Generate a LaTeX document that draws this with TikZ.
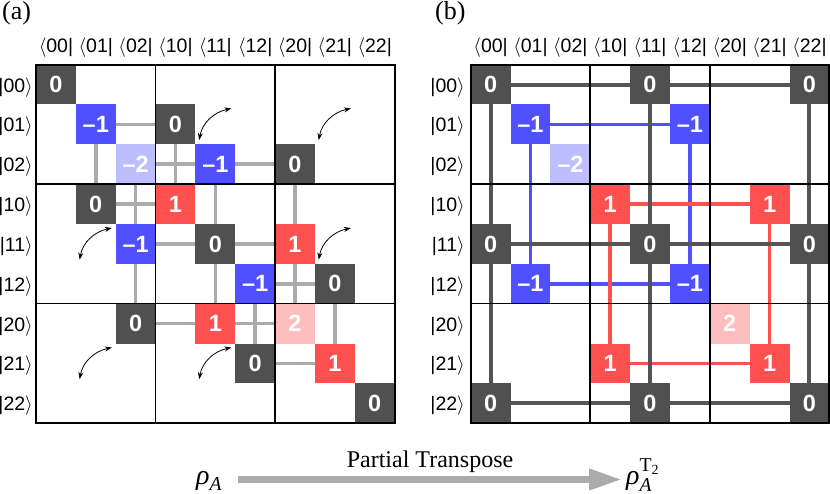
\documentclass[tikz,border=0pt]{standalone}
\usepackage{fix-cm}
\usepackage{amsmath}
\usepackage{fontspec}
\setmainfont{Liberation Serif}
\newfontfamily\arial{Liberation Sans}
\usetikzlibrary{arrows.meta}
\pgfdeclarelayer{bg}
\pgfsetlayers{bg,main}
\definecolor{dk}{HTML}{505050}
\definecolor{bl}{HTML}{5050FF}
\definecolor{lbl}{HTML}{BEBEFF}
\definecolor{rd}{HTML}{FF5050}
\definecolor{lrd}{HTML}{FFBEBE}
\definecolor{lg}{HTML}{ABABAB}
\definecolor{dl}{HTML}{555555}
\def\s{39.85}
\newcommand\acell[4]{\node[#3] (a-#1-#2) at ({36+(#2+0.5)*\s},{64.6+(#1+0.5)*\s}) {#4};}
\newcommand\bcell[4]{\node[#3] (b-#1-#2) at ({470.7+(#2+0.5)*\s},{64.6+(#1+0.5)*\s}) {#4};}
\begin{document}
\begin{tikzpicture}[x=1pt,y=-1pt,
  sq/.style={minimum size=39.85pt, inner sep=0pt, outer sep=0pt, text=white,
    font=\arial\bfseries\fontsize{23.5}{23.5}\selectfont},
  dkc/.style={sq, fill=dk}, blc/.style={sq, fill=bl}, lbc/.style={sq, fill=lbl},
  rdc/.style={sq, fill=rd}, lrc/.style={sq, fill=lrd},
  lab/.style={font=\arial\fontsize{19.5}{19.5}\selectfont, inner sep=0pt},
  gline/.style={draw=lg, line width=3.5pt},
  dline/.style={draw=dl, line width=4pt},
  bline/.style={draw=bl, line width=3.5pt},
  rline/.style={draw=rd, line width=3.5pt},
  outer/.style={line width=2pt},
  inner/.style={line width=1.6pt},
  swaparr/.style={line width=0.8pt, arrows={Stealth[length=7pt,width=5pt]-Stealth[length=7pt,width=5pt]}},
  bigarr/.style={draw=lg, line width=7pt, arrows={-Triangle[length=33pt,width=20pt]}}]
\useasboundingbox (0,0) rectangle (830,494);

% panel labels
\node[anchor=base west, inner sep=0pt, font=\fontsize{26}{26}\selectfont] (pa) at (2,20) {(a)};
\node[anchor=base west, inner sep=0pt, font=\fontsize{26}{26}\selectfont] (pb) at (435,20) {(b)};

% axis labels
\foreach \lbl [count=\i from 0] in {00,01,02,10,11,12,20,21,22} {
  \node[lab, anchor=base] (aca\i) at ({36+(\i+0.5)*\s},53) {$\langle$\lbl|};
  \node[lab, anchor=base] (bca\i) at ({470.7+(\i+0.5)*\s},53) {$\langle$\lbl|};
  \node[lab, anchor=base east] (ara\i) at (33,{64.6+(\i+0.5)*\s+7.5}) {|\lbl$\rangle$};
  \node[lab, anchor=base east] (bra\i) at (465,{64.6+(\i+0.5)*\s+7.5}) {|\lbl$\rangle$};
}

% panel (a) entries
\acell{0}{0}{dkc}{0}
\acell{1}{1}{blc}{–1}
\acell{1}{3}{dkc}{0}
\acell{2}{2}{lbc}{–2}
\acell{2}{4}{blc}{–1}
\acell{2}{6}{dkc}{0}
\acell{3}{1}{dkc}{0}
\acell{3}{3}{rdc}{1}
\acell{4}{2}{blc}{–1}
\acell{4}{4}{dkc}{0}
\acell{4}{6}{rdc}{1}
\acell{5}{5}{blc}{–1}
\acell{5}{7}{dkc}{0}
\acell{6}{2}{dkc}{0}
\acell{6}{4}{rdc}{1}
\acell{6}{6}{lrc}{2}
\acell{7}{5}{dkc}{0}
\acell{7}{7}{rdc}{1}
\acell{8}{8}{dkc}{0}

% panel (b) entries
\bcell{0}{0}{dkc}{0}
\bcell{0}{4}{dkc}{0}
\bcell{0}{8}{dkc}{0}
\bcell{1}{1}{blc}{–1}
\bcell{1}{5}{blc}{–1}
\bcell{2}{2}{lbc}{–2}
\bcell{3}{3}{rdc}{1}
\bcell{3}{7}{rdc}{1}
\bcell{4}{0}{dkc}{0}
\bcell{4}{4}{dkc}{0}
\bcell{4}{8}{dkc}{0}
\bcell{5}{1}{blc}{–1}
\bcell{5}{5}{blc}{–1}
\bcell{6}{6}{lrc}{2}
\bcell{7}{3}{rdc}{1}
\bcell{7}{7}{rdc}{1}
\bcell{8}{0}{dkc}{0}
\bcell{8}{4}{dkc}{0}
\bcell{8}{8}{dkc}{0}

\begin{pgfonlayer}{bg}
  % panel (a) connectors
  \draw[gline] (a-1-1) -- (a-1-3);
  \draw[gline] (a-1-1) -- (a-3-1);
  \draw[gline] (a-2-2) -- (a-2-4) -- (a-2-6);
  \draw[gline] (a-1-3) -- (a-3-3);
  \draw[gline] (a-2-2) -- (a-4-2) -- (a-6-2);
  \draw[gline] (a-3-1) -- (a-3-3);
  \draw[gline] (a-2-4) -- (a-4-4) -- (a-6-4);
  \draw[gline] (a-4-2) -- (a-4-4) -- (a-4-6);
  \draw[gline] (a-2-6) -- (a-4-6) -- (a-6-6);
  \draw[gline] (a-5-5) -- (a-5-7);
  \draw[gline] (a-5-5) -- (a-7-5);
  \draw[gline] (a-5-7) -- (a-7-7);
  \draw[gline] (a-6-2) -- (a-6-4) -- (a-6-6);
  \draw[gline] (a-7-5) -- (a-7-7);
  % panel (b) connectors
  \draw[bline] (b-1-1) -- (b-1-5);
  \draw[bline] (b-5-1) -- (b-5-5);
  \draw[bline] (b-1-1) -- (b-5-1);
  \draw[bline] (b-1-5) -- (b-5-5);
  \draw[rline] (b-3-3) -- (b-3-7);
  \draw[rline] (b-7-3) -- (b-7-7);
  \draw[rline] (b-3-3) -- (b-7-3);
  \draw[rline] (b-3-7) -- (b-7-7);
  \draw[dline] (b-0-0) -- (b-0-4) -- (b-0-8);
  \draw[dline] (b-4-0) -- (b-4-4) -- (b-4-8);
  \draw[dline] (b-8-0) -- (b-8-4) -- (b-8-8);
  \draw[dline] (b-0-0) -- (b-4-0) -- (b-8-0);
  \draw[dline] (b-0-4) -- (b-4-4) -- (b-8-4);
  \draw[dline] (b-0-8) -- (b-4-8) -- (b-8-8);
\end{pgfonlayer}

% block grids
\foreach \ox in {36,470.7} {
  \draw[outer] (\ox,64.6) rectangle ({\ox+9*\s},{64.6+9*\s});
  \draw[inner] ({\ox+3*\s},64.6) -- ({\ox+3*\s},{64.6+9*\s});
  \draw[inner] ({\ox+6*\s},64.6) -- ({\ox+6*\s},{64.6+9*\s});
  \draw[inner] (\ox,{64.6+3*\s}) -- ({\ox+9*\s},{64.6+3*\s});
  \draw[inner] (\ox,{64.6+6*\s}) -- ({\ox+9*\s},{64.6+6*\s});
}

% swap arrows
\foreach \r/\c [count=\k] in {1/4,1/7,4/1,4/7,7/1,7/4} {
  \coordinate (sw\k) at ({36+\c*\s+3.8},{64.6+\r*\s+35.6});
  \coordinate (ne\k) at ({36+\c*\s+36},{64.6+\r*\s+4});
  \draw[swaparr] (sw\k) to[out=80,in=192] (ne\k);
}

% bottom
\node[anchor=base west, inner sep=0pt, font=\fontsize{28}{28}\selectfont] (rhoA) at (196,484) {$\text{\itshape ρ}_{\textit{A}}$};
\node[anchor=base west, inner sep=0pt, font=\fontsize{28}{28}\selectfont] (rhoT) at (626,484) {$\text{\itshape ρ}^{\text{T}_{\text{2}}}_{\textit{A}}$};
\coordinate (arS) at (238,479.5);
\coordinate (arE) at (622,479.5);
\draw[bigarr] (arS) -- (arE);
\node[anchor=base, inner sep=0pt, font=\fontsize{24}{24}\selectfont] (ptl) at (430,467) {Partial Transpose};
\end{tikzpicture}
\end{document}
